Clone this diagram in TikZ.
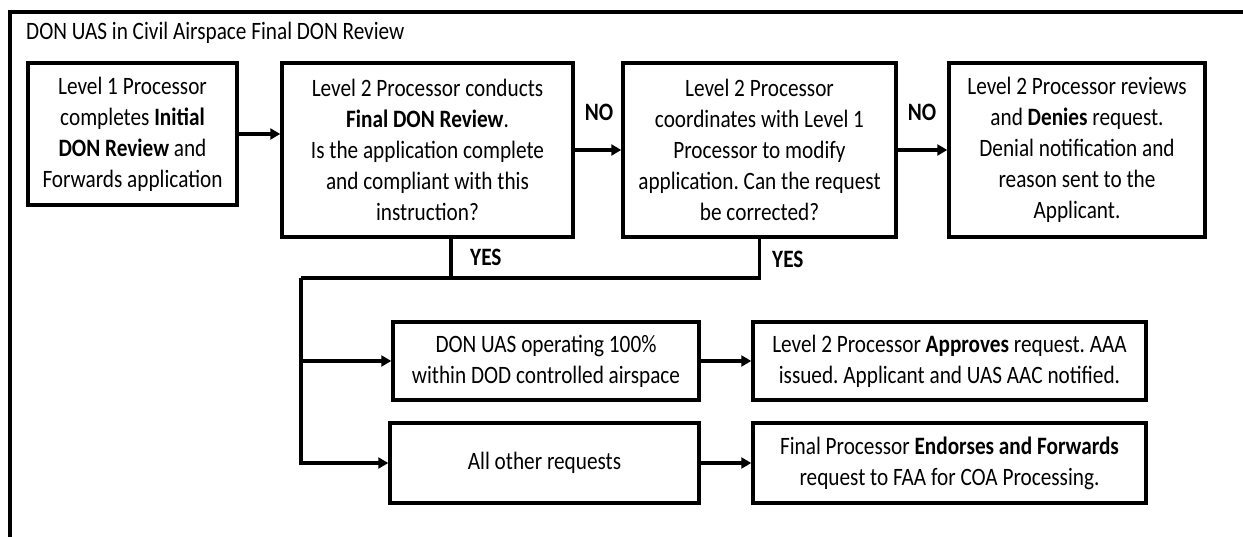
\documentclass[tikz,border=0pt]{standalone}
\usepackage{fontspec}
\setmainfont{Carlito}[FakeStretch=0.85]
\usetikzlibrary{arrows.meta}
\frenchspacing

\begin{document}
\begin{tikzpicture}[x=1pt,y=-1pt,
    font=\fontsize{25}{31}\selectfont,
    box/.style={draw,line width=3.5pt,align=center,inner sep=0pt},
    link/.style={line width=3.5pt},
    arr/.style={link,-{Triangle[length=10pt,width=11pt]}},
    tag/.style={font=\fontsize{25}{31}\selectfont\bfseries,inner sep=0pt}]
    \useasboundingbox (0,0) rectangle (1243,537);
    \draw[link] (1243,12) -- (10,12) -- (10,537);
    \node[anchor=west,inner sep=0pt] (title) at (26,33) {DON UAS in Civil Airspace Final DON Review};
    \node[box,minimum width=209pt,minimum height=142pt] (initial) at (132.5,134)
      {Level 1 Processor\\completes \textbf{Initial}\\\textbf{DON Review} and\\Forwards application};
    \node[box,minimum width=291pt,minimum height=174pt] (review) at (427.5,150)
      {Level 2 Processor conducts\\\textbf{Final DON Review}.\\Is the application complete\\and compliant with this\\instruction?};
    \node[box,minimum width=273pt,minimum height=174pt] (fix) at (759.5,150)
      {Level 2 Processor\\coordinates with Level 1\\Processor to modify\\application. Can the request\\be corrected?};
    \node[box,minimum width=256pt,minimum height=174pt] (deny) at (1077,150)
      {Level 2 Processor reviews\\and \textbf{Denies} request.\\Denial notification and\\reason sent to the\\Applicant.};
    \node[box,minimum width=306pt,minimum height=78pt] (dod) at (546,361)
      {DON UAS operating 100\%\\within DOD controlled airspace};
    \node[box,minimum width=309pt,minimum height=80pt] (other) at (544.5,463)
      {All other requests};
    \node[box,minimum width=393pt,minimum height=78pt] (approve) at (949.5,361)
      {Level 2 Processor \textbf{Approves} request. AAA\\issued. Applicant and UAS AAC notified.};
    \node[box,minimum width=393pt,minimum height=80pt] (endorse) at (949.5,463)
      {Final Processor \textbf{Endorses and Forwards}\\request to FAA for COA Processing.};
    \node[tag] (no1) at (599,112) {NO};
    \node[tag] (no2) at (922,112) {NO};
    \node[tag,anchor=west] (yes1) at (470,257) {YES};
    \node[tag,anchor=west] (yes2) at (772,259) {YES};
    \coordinate (split) at (301,278);
    \draw[arr] (initial) -- (initial -| review.west);
    \draw[arr] (review) -- (fix);
    \draw[arr] (fix) -- (deny);
    \draw[link] ([xshift=23.5pt]review.south) |- (split);
    \draw[link] (fix.south) |- (split);
    \draw[arr] (split) |- (dod);
    \draw[arr] (split) |- (other);
    \draw[arr] (dod) -- (approve);
    \draw[arr] (other) -- (endorse);
\end{tikzpicture}
\end{document}
